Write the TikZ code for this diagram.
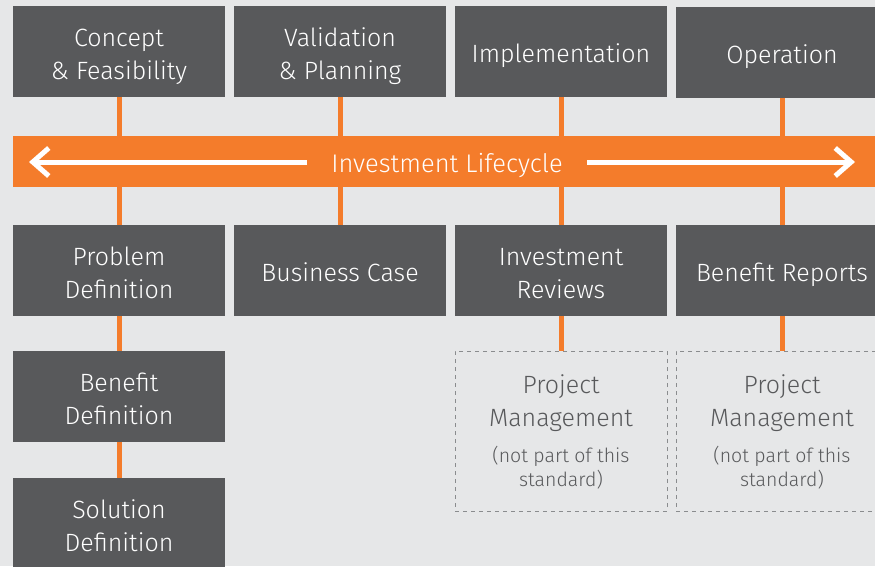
\documentclass[tikz,border=0pt]{standalone}
\usepackage{fontspec}
\setmainfont{Fira Sans Light}
\usetikzlibrary{arrows.meta}

\definecolor{bg}{HTML}{E6E7E8}
\definecolor{slate}{HTML}{58595B}
\definecolor{tangerine}{HTML}{F47C2B}
\definecolor{dashgray}{HTML}{8A8C8E}

\newcommand{\smallnote}[1]{{\fontsize{19.5}{25}\selectfont #1}}

\begin{document}
\begin{tikzpicture}[
  x=1pt, y=-1pt,
  font=\fontsize{25}{33}\selectfont,
  box/.style={fill=slate, text=white, align=center, inner sep=0pt, text depth=0pt, text height=22pt, minimum width=212pt, minimum height=91pt},
  twoline/.style={text height=55pt},
  ext/.style={draw=dashgray, dash pattern=on 4pt off 4pt, line width=1pt, text=slate, align=center, inner sep=0pt, text depth=0pt, text height=111pt, minimum width=212pt, minimum height=160pt},
  bar/.style={fill=tangerine, inner sep=0pt, minimum width=880pt, minimum height=51pt},
  link/.style={draw=tangerine, line width=5pt},
  arr/.style={draw=white, line width=5pt, -{Straight Barb[length=16pt, width=28pt, line width=5pt]}}
]
\fill[bg] (0,0) rectangle (875,566);
\clip (0,0) rectangle (875,566);

% Phases (top row)
\node[box, twoline] (concept) at (119,51.5) {Concept\\\& Feasibility};
\node[box, twoline] (validation) at (340,51.5) {Validation\\\& Planning};
\node[box] (implementation) at (561,51.5) {Implementation};
\node[box] (operation) at (782,52.5) {Operation};

% Deliverables (below the lifecycle)
\node[box, twoline] (problem) at (119,270.5) {Problem\\Definition};
\node[box] (bizcase) at (340,270.5) {Business Case};
\node[box, twoline] (reviews) at (561,270.5) {Investment\\Reviews};
\node[box] (reports) at (782,270.5) {Benefit Reports};

\node[box, twoline] (benefitdef) at (119,396.5) {Benefit\\Definition};
\node[box, twoline] (solution) at (119,523.5) {Solution\\Definition};

% Outside the standard
\node[ext] (pm1) at (561,431) {Project\\Management\\[3pt]\smallnote{(not part of this}\\[-9pt]\smallnote{standard)}};
\node[ext] (pm2) at (782,431) {Project\\Management\\[3pt]\smallnote{(not part of this}\\[-9pt]\smallnote{standard)}};

% Orange links
\draw[link] (concept) -- (problem);
\draw[link] (validation) -- (bizcase);
\draw[link] (implementation) -- (reviews);
\draw[link] (operation) -- (reports);
\draw[link] (problem) -- (benefitdef);
\draw[link] (benefitdef) -- (solution);
\draw[link] (reviews) -- (pm1);
\draw[link] (reports) -- (pm2);

% Lifecycle bar
\node[bar, anchor=west] (lifecycle) at (13,161.5) {};
\node[text=white, inner xsep=24pt, inner ysep=0pt, text depth=0pt, text height=21pt] (lbl) at (447,162) {\fontsize{25.5}{33}\selectfont Investment Lifecycle};
\coordinate (ltip) at (29,162);
\coordinate (rtip) at (855,162);
\draw[arr] (lbl.west) -- (ltip);
\draw[arr] (lbl.east) -- (rtip);

\end{tikzpicture}
\end{document}
